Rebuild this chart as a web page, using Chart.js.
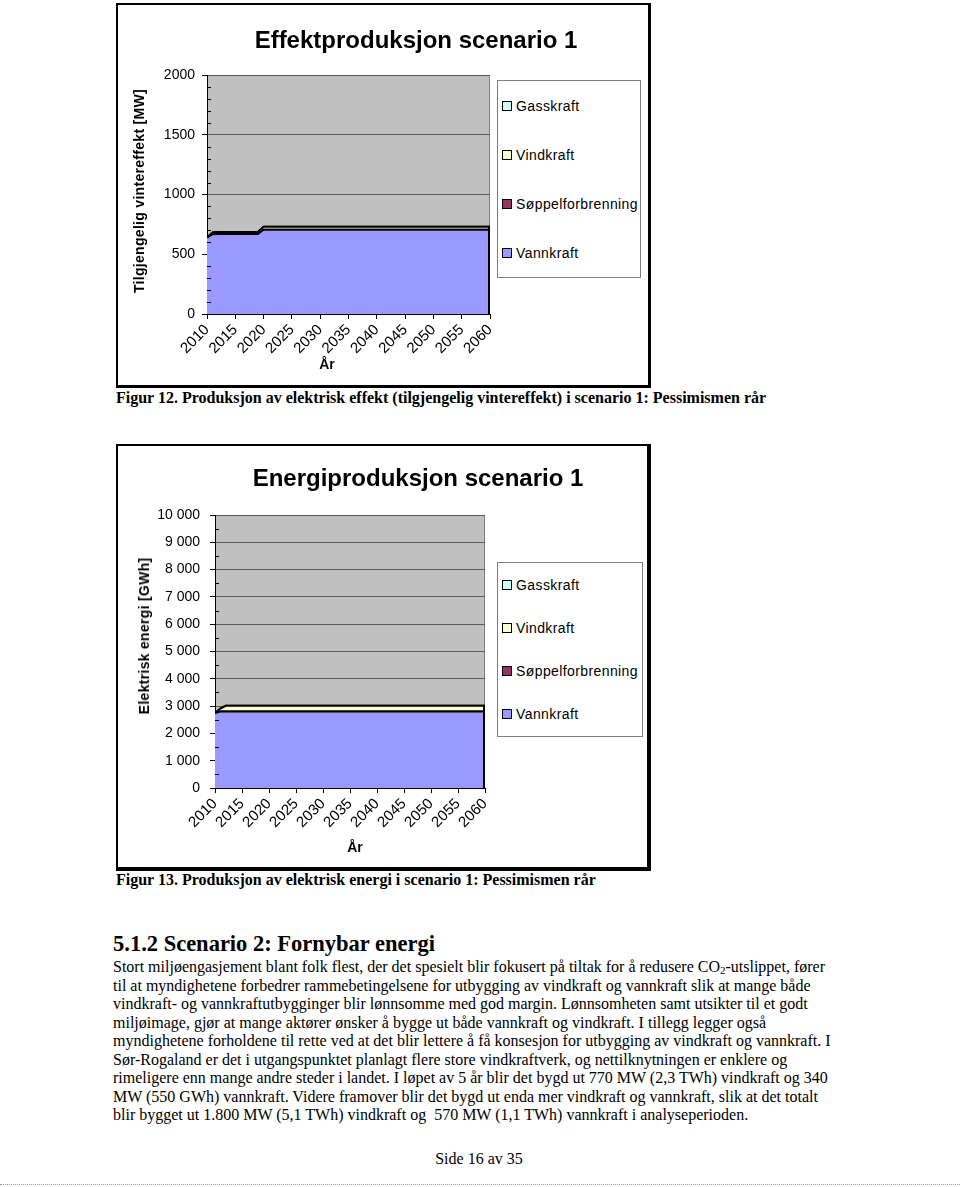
<!DOCTYPE html>
<html>
<head>
<meta charset="utf-8">
<script src="https://cdn.jsdelivr.net/npm/chart.js@4.4.0/dist/chart.umd.min.js"></script>
<style>
    body { margin: 0; background: #fff; }
    #page { position: relative; width: 960px; height: 1187px; overflow: hidden; font-family: "Liberation Serif", "Times New Roman", serif; color: #000; }
    .frame { position: absolute; box-sizing: border-box; border: 2px solid #000; border-right-width: 3px; border-bottom-width: 3px; background: #fff; }
    canvas { position: absolute; }
    .sans { font-family: "Liberation Sans", Arial, sans-serif; }
    .ctitle { position: absolute; font-weight: bold; font-size: 24px; white-space: nowrap; transform: translate(-50%, -50%); }
    .atitle { position: absolute; font-weight: bold; font-size: 14px; white-space: nowrap; transform: translate(-50%, -50%); }
    .ytitle { transform: translate(-50%, -50%) rotate(-90deg); letter-spacing: 0.3px; }
    .legend { position: absolute; box-sizing: border-box; border: 1px solid #808080; background: #fff; font-size: 14px; letter-spacing: 0.4px; }
    .legend .item { position: absolute; left: 4px; display: flex; align-items: center; transform: translateY(-50%); white-space: nowrap; }
    .legend .sw { width: 8px; height: 8px; border: 1px solid #000; margin-right: 4px; }
    .txt { position: absolute; white-space: pre; line-height: 18px; font-size: 16px; }
    sub { font-size: 11px; vertical-align: -2px; line-height: 0; }
</style>
</head>
<body>
<div id="page">
    <!-- Figur 12 -->
    <div class="frame" style="left:116px; top:3px; width:535px; height:385px;"></div>
    <canvas id="effektChart" width="528" height="380" style="left:118px; top:5px;"></canvas>
    <div class="ctitle sans" style="left:416px; top:40px;">Effektproduksjon scenario 1</div>
    <div class="atitle ytitle sans" style="left:139px; top:191px;">Tilgjengelig vintereffekt [MW]</div>
    <div class="atitle sans" style="left:327px; top:364px;">År</div>
    <div class="legend sans" id="effektLegend" style="left:497px; top:80px; width:144px; height:198px;"></div>
    <div class="txt" style="left:116px; top:389px; font-weight:bold;">Figur 12. Produksjon av elektrisk effekt (tilgjengelig vintereffekt) i scenario 1: Pessimismen rår</div>

    <!-- Figur 13 -->
    <div class="frame" style="left:116px; top:444px; width:535px; height:427px; border-right-width:4px; border-bottom-width:4px;"></div>
    <canvas id="energiChart" width="528" height="422" style="left:118px; top:446px;"></canvas>
    <div class="ctitle sans" style="left:418px; top:478px;">Energiproduksjon scenario 1</div>
    <div class="atitle ytitle sans" style="left:144px; top:636px;">Elektrisk energi [GWh]</div>
    <div class="atitle sans" style="left:355px; top:847px;">År</div>
    <div class="legend sans" id="energiLegend" style="left:497px; top:562px; width:146px; height:175px;"></div>
    <div class="txt" style="left:116px; top:871px; font-weight:bold;">Figur 13. Produksjon av elektrisk energi i scenario 1: Pessimismen rår</div>

    <!-- Tekst -->
    <div class="txt" style="left:113px; top:932px; font-weight:bold; font-size:22.5px; line-height:24px;">5.1.2 Scenario 2: Fornybar energi</div>
    <div class="txt" style="left:113px; top:958px;">Stort miljøengasjement blant folk flest, der det spesielt blir fokusert på tiltak for å redusere CO<sub>2</sub>-utslippet, fører</div>
    <div class="txt" style="left:113px; top:977px;">til at myndighetene forbedrer rammebetingelsene for utbygging av vindkraft og vannkraft slik at mange både</div>
    <div class="txt" style="left:113px; top:995px;">vindkraft- og vannkraftutbygginger blir lønnsomme med god margin. Lønnsomheten samt utsikter til et godt</div>
    <div class="txt" style="left:113px; top:1014px;">miljøimage, gjør at mange aktører ønsker å bygge ut både vannkraft og vindkraft. I tillegg legger også</div>
    <div class="txt" style="left:113px; top:1032px;">myndighetene forholdene til rette ved at det blir lettere å få konsesjon for utbygging av vindkraft og vannkraft. I</div>
    <div class="txt" style="left:113px; top:1051px;">Sør-Rogaland er det i utgangspunktet planlagt flere store vindkraftverk, og nettilknytningen er enklere og</div>
    <div class="txt" style="left:113px; top:1069px;">rimeligere enn mange andre steder i landet. I løpet av 5 år blir det bygd ut 770 MW (2,3 TWh) vindkraft og 340</div>
    <div class="txt" style="left:113px; top:1088px;">MW (550 GWh) vannkraft. Videre framover blir det bygd ut enda mer vindkraft og vannkraft, slik at det totalt</div>
    <div class="txt" style="left:113px; top:1106px;">blir bygget ut 1.800 MW (5,1 TWh) vindkraft og  570 MW (1,1 TWh) vannkraft i analyseperioden.</div>

    <div class="txt" style="left:0; width:958px; text-align:center; top:1150px;">Side 16 av 35</div>
    <div style="position:absolute; left:0; top:1184px; width:960px; border-top:1px dotted #999;"></div>
</div>

<script>
// Series, bottom to top in the stack
const seriesNames = ['Vannkraft', 'Søppelforbrenning', 'Vindkraft', 'Gasskraft'];
const seriesColors = ['#9999FF', '#993366', '#FFFFCC', '#CCFFFF'];

// Year ticks on both x axes
const yearTicks = [2010, 2015, 2020, 2025, 2030, 2035, 2040, 2045, 2050, 2055, 2060];

// Figur 12 - tilgjengelig vintereffekt [MW]
const effektYears = [2010, 2011, 2012, 2019, 2020, 2060];
const effektVannkraft = [640, 668, 670, 670, 705, 705];
const effektSoppel = [0, 0, 0, 0, 0, 0];
const effektVindkraft = [0, 15, 17, 17, 25, 25];
const effektGasskraft = [0, 0, 0, 0, 0, 0];
const effektTicks = [0, 500, 1000, 1500, 2000];

// Figur 13 - elektrisk energi [GWh]
const energiYears = [2010, 2011, 2012, 2060];
const energiVannkraft = [2745, 2800, 2800, 2800];
const energiSoppel = [0, 0, 0, 0];
const energiVindkraft = [0, 110, 210, 210];
const energiGasskraft = [0, 0, 0, 0];
const energiTicks = [0, 1000, 2000, 3000, 4000, 5000, 6000, 7000, 8000, 9000, 10000];

const sansFont = { family: '"Liberation Sans", Arial, sans-serif', size: 14 };

// Grey plot area, minor y ticks, closing edge of the stack at the last year
const plotArea = {
    id: 'plotArea',
    beforeDraw(chart) {
        const a = chart.chartArea;
        const ctx = chart.ctx;
        ctx.save();
        ctx.fillStyle = '#C0C0C0';
        ctx.fillRect(a.left, a.top, a.right - a.left, a.bottom - a.top);
        ctx.strokeStyle = '#808080';
        ctx.lineWidth = 1;
        ctx.strokeRect(a.left + 0.5, a.top + 0.5, a.right - a.left - 1, a.bottom - a.top - 1);
        ctx.restore();
    },
    afterDatasetsDraw(chart) {
        const metas = chart.getSortedVisibleDatasetMetas();
        const top = metas[metas.length - 1].data;
        const last = top[top.length - 1];
        const ctx = chart.ctx;
        ctx.save();
        ctx.strokeStyle = '#000';
        ctx.lineWidth = 2;
        ctx.beginPath();
        ctx.moveTo(last.x - 1, chart.chartArea.bottom);
        ctx.lineTo(last.x - 1, last.y);
        ctx.stroke();
        ctx.restore();
    },
    afterDraw(chart, args, opts) {
        const y = chart.scales.y;
        const a = chart.chartArea;
        const ctx = chart.ctx;
        ctx.save();
        ctx.strokeStyle = '#000';
        ctx.lineWidth = 1;
        for (let v = y.min + opts.minor; v < y.max; v += opts.minor) {
            if (v % opts.major === 0) continue;
            const py = Math.round(y.getPixelForValue(v)) + 0.5;
            ctx.beginPath();
            ctx.moveTo(a.left, py);
            ctx.lineTo(a.left + 4, py);
            ctx.stroke();
        }
        ctx.restore();
    }
};

function spaced(v) {
    return String(v).replace(/\B(?=(\d{3})+(?!\d))/g, ' ');
}

function buildLegend(id) {
    const box = document.getElementById(id);
    const h = box.clientHeight;
    let html = '';
    // legend lists the top of the stack first
    for (let i = seriesNames.length - 1, k = 0; i >= 0; i--, k++) {
        const top = h * (k + 0.5) / seriesNames.length;
        html += `<div class="item" style="top:${top}px;"><span class="sw" style="background:${seriesColors[i]};"></span>${seriesNames[i]}</div>`;
    }
    box.innerHTML = html;
}

function stackChart(canvasId, years, series, yTicks, yMax, minorStep, labelFmt, area) {
    const datasets = series.map((vals, i) => ({
        label: seriesNames[i],
        data: years.map((yr, j) => ({ x: yr, y: vals[j] })),
        backgroundColor: seriesColors[i],
        borderColor: '#000',
        borderWidth: 2,
        pointRadius: 0,
        tension: 0,
        fill: i === 0 ? 'origin' : '-1'
    }));

    return new Chart(document.getElementById(canvasId), {
        type: 'line',
        data: { datasets: datasets },
        plugins: [plotArea],
        options: {
            responsive: false,
            animation: false,
            layout: { padding: { left: 0, top: area.top, right: area.right, bottom: 0 } },
            plugins: {
                legend: { display: false },
                tooltip: { enabled: false },
                plotArea: { minor: minorStep, major: yTicks[1] - yTicks[0] }
            },
            scales: {
                x: {
                    type: 'linear',
                    min: years[0],
                    max: yearTicks[yearTicks.length - 1],
                    afterBuildTicks: s => { s.ticks = yearTicks.map(v => ({ value: v })); },
                    afterFit: s => { s.height = area.xHeight; },
                    ticks: {
                        autoSkip: false,
                        minRotation: 45,
                        maxRotation: 45,
                        color: '#000',
                        font: { family: sansFont.family, size: 15 },
                        padding: 2,
                        callback: v => String(v)
                    },
                    grid: { drawOnChartArea: false, tickColor: '#000', tickLength: 5 },
                    border: { color: '#000', width: 1 }
                },
                y: {
                    stacked: true,
                    min: 0,
                    max: yMax,
                    afterBuildTicks: s => { s.ticks = yTicks.map(v => ({ value: v })); },
                    afterFit: s => { s.width = area.yWidth; },
                    ticks: {
                        autoSkip: false,
                        color: '#000',
                        font: sansFont,
                        padding: area.labelGap,
                        callback: labelFmt
                    },
                    grid: { color: '#5a5a5a', tickColor: '#000', tickLength: 5 },
                    border: { color: '#000', width: 1 }
                }
            }
        }
    });
}

stackChart('effektChart', effektYears,
    [effektVannkraft, effektSoppel, effektVindkraft, effektGasskraft],
    effektTicks, 2000, 100, v => String(v),
    { top: 70, right: 156, xHeight: 71, yWidth: 89, labelGap: 7 });

stackChart('energiChart', energiYears,
    [energiVannkraft, energiSoppel, energiVindkraft, energiGasskraft],
    energiTicks, 10000, 500, v => spaced(v),
    { top: 69, right: 161, xHeight: 80, yWidth: 97, labelGap: 10 });

buildLegend('effektLegend');
buildLegend('energiLegend');
</script>
</body>
</html>
